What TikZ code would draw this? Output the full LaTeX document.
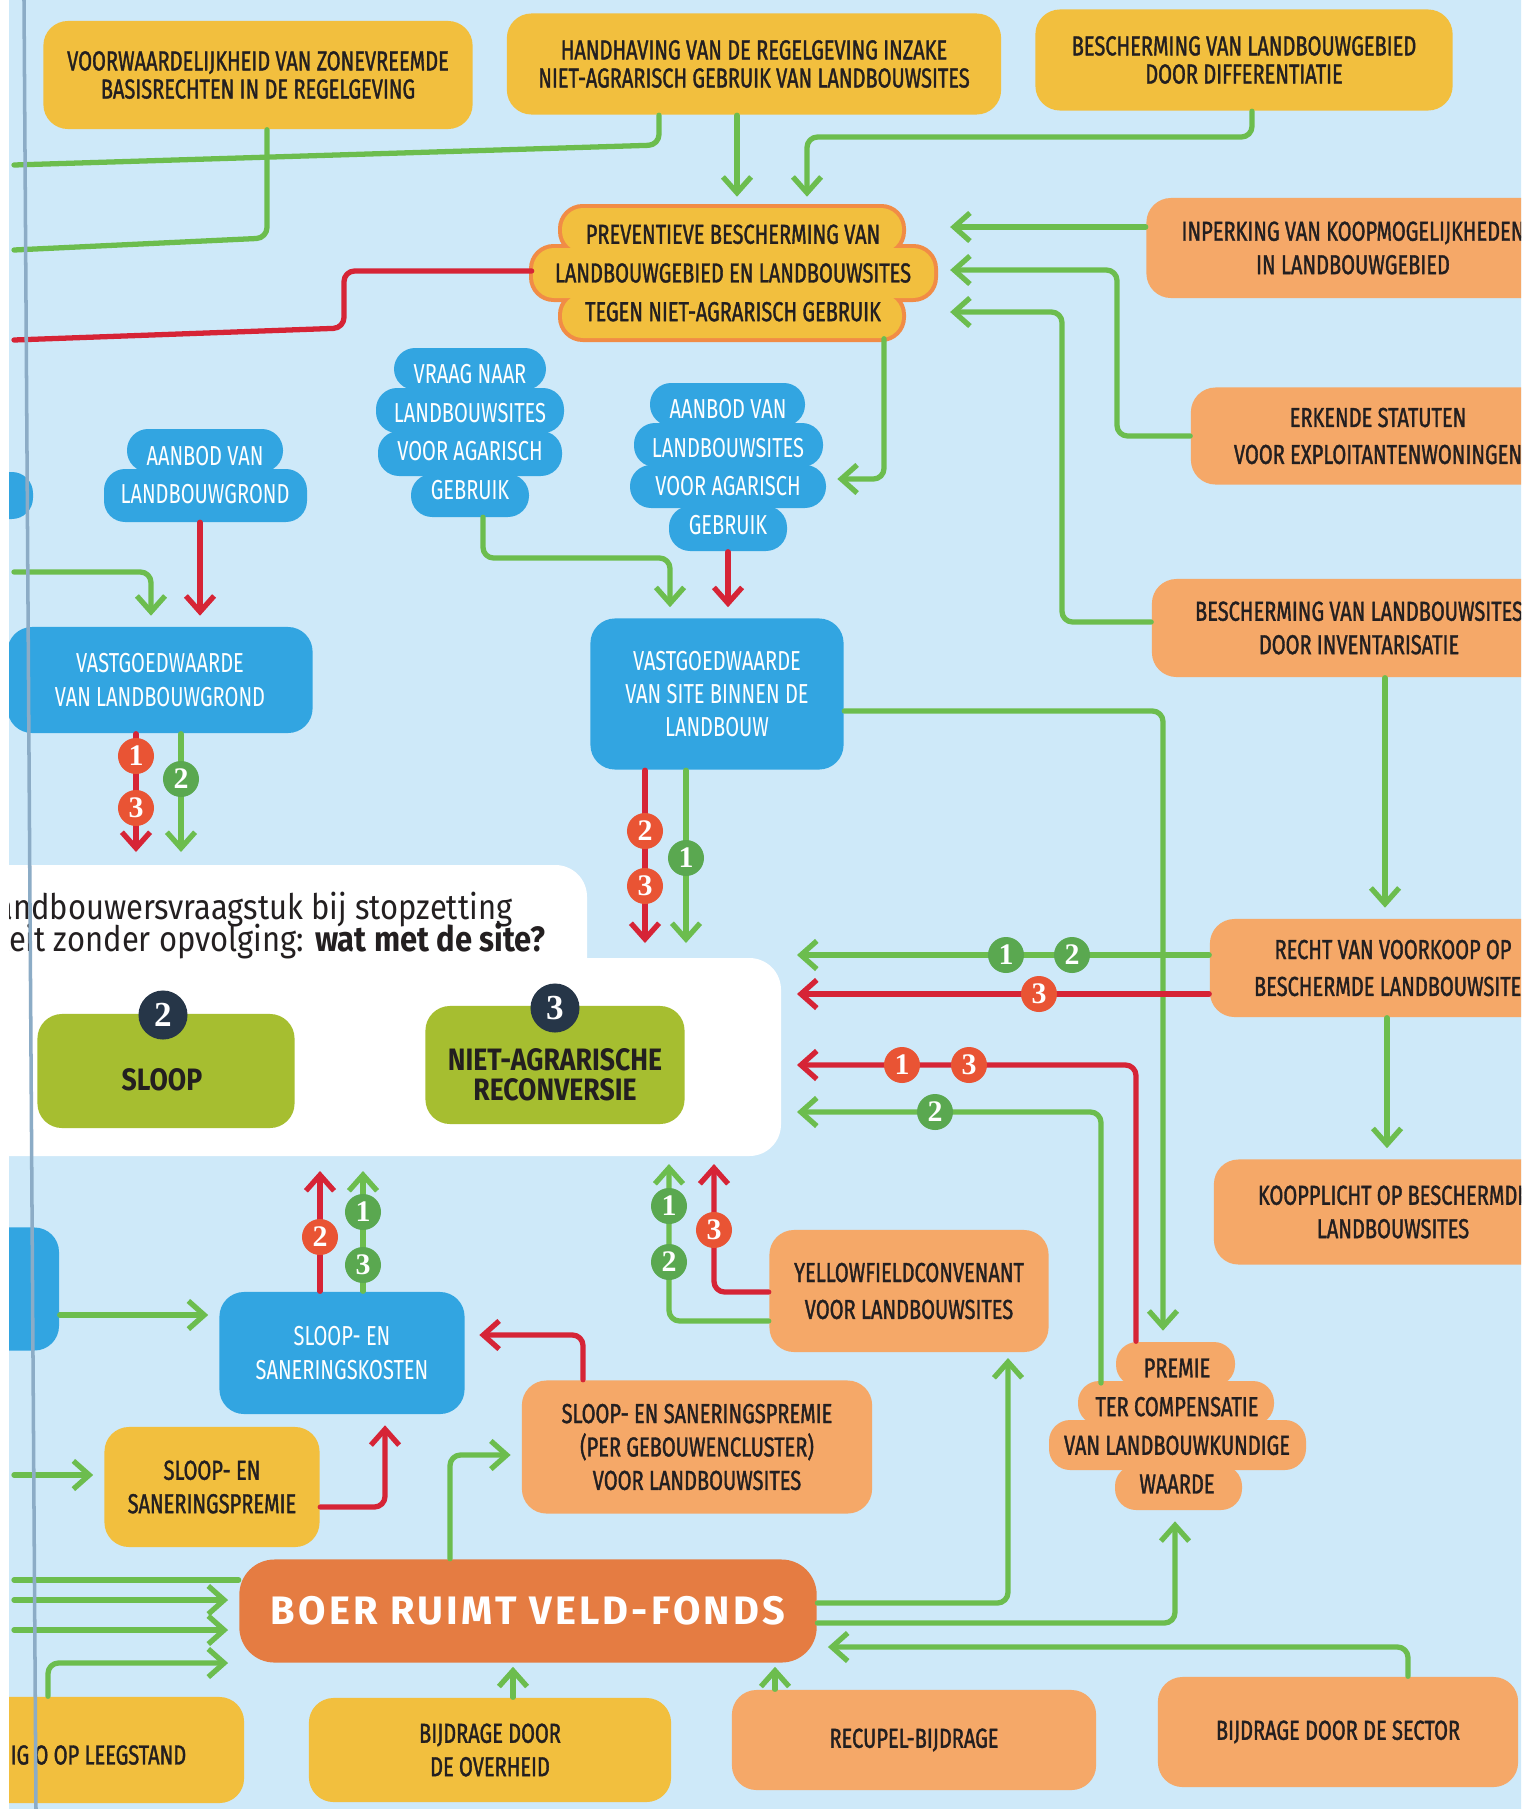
\documentclass[tikz,border=0pt]{standalone}
\usepackage{fontspec}
\setmainfont{Fira Sans}
\newfontfamily\boxfont[FakeStretch=0.73]{Fira Sans}
\newfontfamily\darkboxfont[FakeStretch=0.73,FakeBold=1.3]{Fira Sans}
\newfontfamily\heavyfont[FakeStretch=0.86]{Fira Sans}
\newfontfamily\numfont{Liberation Serif}
\newfontfamily\titlefont[FakeStretch=0.88]{Fira Sans}
\newfontfamily\fondsfont[LetterSpace=8]{Fira Sans}
\usetikzlibrary{arrows.meta}

\definecolor{bgblue}{RGB}{206,233,249}
\definecolor{boxyellow}{RGB}{242,191,62}
\definecolor{boxorange}{RGB}{245,168,104}
\definecolor{boxblue}{RGB}{50,165,225}
\definecolor{fondsorange}{RGB}{229,124,66}
\definecolor{linegreen}{RGB}{108,189,78}
\definecolor{linered}{RGB}{214,36,54}
\definecolor{badgered}{RGB}{233,84,52}
\definecolor{badgegreen}{RGB}{90,168,80}
\definecolor{olive}{RGB}{166,190,48}
\definecolor{navy}{RGB}{38,54,72}
\definecolor{cloudrim}{RGB}{241,140,70}
\definecolor{inkdark}{RGB}{35,31,32}
\definecolor{gutter}{RGB}{140,172,198}

\tikzset{
  ybox/.style={fill=boxyellow, rounded corners=7pt, inner sep=0pt, align=center, text=inkdark,
    font=\darkboxfont\fontsize{7.8}{9.5}\selectfont},
  obox/.style={ybox, fill=boxorange},
  bbox/.style={ybox, fill=boxblue, text=white, font=\boxfont\fontsize{7.8}{9.5}\selectfont},
  tight/.style={font=\darkboxfont\fontsize{7.8}{8}\selectfont},
  loose/.style={font=\darkboxfont\fontsize{7.8}{10.5}\selectfont},
  cloudtext/.style={inner sep=0pt, align=center, text=white, font=\boxfont\fontsize{7.8}{11}\selectfont},
  darkcloud/.style={cloudtext, text=inkdark, font=\darkboxfont\fontsize{7.8}{11}\selectfont},
  olivebox/.style={fill=olive, rounded corners=7pt, inner sep=0pt},
  olivetext/.style={inner sep=0pt, align=center, text=inkdark,
    font=\heavyfont\bfseries\fontsize{8.8}{8.6}\selectfont},
  fondsbox/.style={fill=fondsorange, rounded corners=10pt, inner sep=0pt, text=white,
    font=\fondsfont\bfseries\fontsize{11.3}{12}\selectfont},
  titletext/.style={inner sep=0pt, text=inkdark, font=\titlefont\fontsize{10}{11}\selectfont},
  gline/.style={draw=linegreen, line width=1.5pt, rounded corners=3pt},
  rline/.style={draw=linered, line width=1.5pt, rounded corners=3pt},
  pointy/.style={-{Straight Barb[length=4.5pt,width=8pt]}},
  gapped/.style={shorten >=3pt},
  redbadge/.style={circle, fill=badgered, text=white, inner sep=0pt, minimum size=0.36cm,
    font=\numfont\bfseries\fontsize{8.5}{8.5}\selectfont},
  greenbadge/.style={redbadge, fill=badgegreen},
  navybadge/.style={circle, fill=navy, text=white, inner sep=0pt, minimum size=0.49cm,
    font=\numfont\bfseries\fontsize{10}{10}\selectfont}
}

\begin{document}
\begin{tikzpicture}[x=0.01cm,y=-0.01cm,line cap=round,line join=round]
  \useasboundingbox (0,0) rectangle (1535,1809);
  \fill[white] (0,0) rectangle (1535,1809);
  \begin{scope}
  \clip (9,0) rectangle (1521,1809);
  \fill[bgblue] (0,0) rectangle (1535,1809);

  % white panel with the question
  \fill[white, rounded corners=9pt] (-40,865) rectangle (587,1010);
  \fill[white, rounded corners=9pt] (-40,958) rectangle (781,1156);
  \node[titletext, anchor=base east] (q1) at (513,919) {landbouwersvraagstuk bij stopzetting};
  \node[titletext, anchor=base east] (q2) at (546,951) {activiteit zonder opvolging: \textbf{wat met de site?}};
  \node[olivebox, minimum width=2.57cm, minimum height=1.14cm] (sloop) at (166,1071) {};
  \node[olivebox, minimum width=2.59cm, minimum height=1.18cm] (reconv) at (555,1065) {};
  \node[olivetext] (slooptxt) at (162,1080) {SLOOP};
  \node[olivetext] (reconvtxt) at (555,1075) {NIET-AGRARISCHE\\RECONVERSIE};
  \node[navybadge] (n2) at (163,1015) {2};
  \node[navybadge] (n3) at (555,1008) {3};

  % clouds
  \foreach \xa/\ya/\xb/\yb in {562/208/902/252, 533/248/934/298, 562/294/902/338}
    \fill[cloudrim, rounded corners=7pt] (\xa-4,\ya-4) rectangle (\xb+4,\yb+4);
  \foreach \xa/\ya/\xb/\yb in {562/208/902/252, 533/248/934/298, 562/294/902/338}
    \fill[boxyellow, rounded corners=6pt] (\xa,\ya) rectangle (\xb,\yb);
  \foreach \xa/\ya/\xb/\yb in {394/348/546/390, 376/388/564/433, 378/431/562/476, 411/474/529/517,
      650/383/805/426, 634/423/823/467, 630/465/826/508, 669/506/787/551,
      127/429/283/472, 104/469/307/522, -20/472/33/519}
    \fill[boxblue, rounded corners=6pt] (\xa,\ya) rectangle (\xb,\yb);
  \foreach \xa/\ya/\xb/\yb in {1116/1342/1235/1386, 1078/1381/1274/1425, 1049/1420/1306/1470, 1115/1465/1242/1510}
    \fill[boxorange, rounded corners=6pt] (\xa,\ya) rectangle (\xb,\yb);

  \node[darkcloud, minimum width=4.01cm, minimum height=1.30cm] (prev) at (733,273)
    {PREVENTIEVE BESCHERMING VAN\\LANDBOUWGEBIED EN LANDBOUWSITES\\TEGEN NIET-AGRARISCH GEBRUIK};
  \node[cloudtext, minimum width=1.88cm, minimum height=1.69cm] (vraag) at (470,432)
    {VRAAG NAAR\\LANDBOUWSITES\\VOOR AGARISCH\\GEBRUIK};
  \node[cloudtext, minimum width=1.96cm, minimum height=1.68cm] (aanbsite) at (728,467)
    {AANBOD VAN\\LANDBOUWSITES\\VOOR AGARISCH\\GEBRUIK};
  \node[cloudtext, minimum width=2.03cm, minimum height=0.93cm] (aanbgrond) at (205,475)
    {AANBOD VAN\\LANDBOUWGROND};
  \node[darkcloud, minimum width=2.57cm, minimum height=1.68cm] (premie) at (1177,1426)
    {PREMIE\\TER COMPENSATIE\\VAN LANDBOUWKUNDIGE\\WAARDE};
  \coordinate (p2) at (1101,1383);

  % boxes
  \node[ybox, tight, minimum width=4.29cm, minimum height=1.08cm] (voorw) at (258,75)
    {VOORWAARDELIJKHEID VAN ZONEVREEMDE\\BASISRECHTEN IN DE REGELGEVING};
  \node[ybox, tight, minimum width=4.94cm, minimum height=1.01cm] (handh) at (754,64)
    {HANDHAVING VAN DE REGELGEVING INZAKE\\NIET-AGRARISCH GEBRUIK VAN LANDBOUWSITES};
  \node[ybox, tight, minimum width=4.17cm, minimum height=1.01cm] (diff) at (1244,60)
    {BESCHERMING VAN LANDBOUWGEBIED\\DOOR DIFFERENTIATIE};
  \node[obox, minimum width=4.13cm, minimum height=1.00cm] (inperk) at (1353,248)
    {INPERKING VAN KOOPMOGELIJKHEDEN\\IN LANDBOUWGEBIED};
  \node[obox, loose, minimum width=3.74cm, minimum height=0.97cm] (erkend) at (1378,436)
    {ERKENDE STATUTEN\\VOOR EXPLOITANTENWONINGEN};
  \node[obox, minimum width=4.14cm, minimum height=0.98cm] (invent) at (1359,628)
    {BESCHERMING VAN LANDBOUWSITES\\DOOR INVENTARISATIE};
  \node[obox, loose, minimum width=3.66cm, minimum height=0.98cm] (recht) at (1393,968)
    {RECHT VAN VOORKOOP OP\\BESCHERMDE LANDBOUWSITES};
  \node[obox, minimum width=3.58cm, minimum height=1.05cm] (koop) at (1393,1212)
    {KOOPPLICHT OP BESCHERMDE\\LANDBOUWSITES};
  \node[bbox, minimum width=3.05cm, minimum height=1.06cm] (vggrond) at (160,680)
    {VASTGOEDWAARDE\\VAN LANDBOUWGROND};
  \node[bbox, minimum width=2.53cm, minimum height=1.51cm] (vgsite) at (717,694)
    {VASTGOEDWAARDE\\VAN SITE BINNEN DE\\LANDBOUW};
  \node[bbox, minimum width=2.45cm, minimum height=1.22cm] (kosten) at (342,1353)
    {SLOOP- EN\\SANERINGSKOSTEN};
  \node[bbox, minimum width=1.00cm, minimum height=1.23cm] (leftbox) at (9,1289) {};
  \node[obox, minimum width=3.50cm, minimum height=1.33cm] (premclus) at (697,1447)
    {SLOOP- EN SANERINGSPREMIE\\(PER GEBOUWENCLUSTER)\\VOOR LANDBOUWSITES};
  \node[ybox, minimum width=2.15cm, minimum height=1.20cm] (sanpremie) at (212,1487)
    {SLOOP- EN\\SANERINGSPREMIE};
  \node[obox, loose, minimum width=2.79cm, minimum height=1.22cm] (yellowf) at (909,1291)
    {YELLOWFIELDCONVENANT\\VOOR LANDBOUWSITES};
  \node[fondsbox, minimum width=5.77cm, minimum height=1.03cm] (fonds) at (528,1611) {BOER RUIMT VELD-FONDS};
  \node[ybox, minimum width=2.64cm, minimum height=1.06cm] (leeg) at (112,1750) {};
  \node[inner sep=0pt, text=inkdark, font=\darkboxfont\fontsize{7.8}{9.5}\selectfont, anchor=west] (leegtxt) at (10,1755)
    {IG O OP LEEGSTAND};
  \node[ybox, minimum width=3.62cm, minimum height=1.04cm] (overheid) at (490,1750)
    {BIJDRAGE DOOR\\DE OVERHEID};
  \node[obox, minimum width=3.64cm, minimum height=1.00cm] (recupel) at (914,1740) {RECUPEL-BIJDRAGE};
  \node[obox, minimum width=3.60cm, minimum height=1.10cm] (sector) at (1338,1732) {BIJDRAGE DOOR DE SECTOR};

  % loose ends
  \coordinate (w1) at (14,250);
  \coordinate (w2) at (14,165);
  \coordinate (w3) at (14,340);
  \coordinate (w4) at (14,572);
  \coordinate (w5) at (14,1475);
  \coordinate (w6) at (14,1580);
  \coordinate (w7) at (14,1600);
  \coordinate (w8) at (14,1630);
  \coordinate (e1) at (136,852);
  \coordinate (e2) at (181,852);
  \coordinate (e3) at (645,943);
  \coordinate (e4) at (686,943);
  \coordinate (e5) at (797,955);
  \coordinate (e6) at (797,994);
  \coordinate (e7) at (797,1065);
  \coordinate (e8) at (797,1112);
  \coordinate (e9) at (714,1164);
  \coordinate (e10) at (669,1164);
  \coordinate (e11) at (320,1171);
  \coordinate (e12) at (363,1171);

  % connectors
  \draw[gline] (voorw.south -| 267,0) -- (267,238) -- (w1);
  \draw[gline] (handh.south -| 659,0) -- (659,145) -- (w2);
  \draw[gline, pointy, gapped] (handh.south -| 737,0) -- (prev.north -| 737,0);
  \draw[gline, pointy, gapped] (diff.south -| 1252,0) -- (1252,137) -- (807,137) -- (prev.north -| 807,0);
  \draw[gline, pointy, shorten >=4.5pt] (inperk.west |- 0,227) -- (prev.east |- 0,227);
  \draw[gline, pointy, shorten >=4.5pt] (erkend.west |- 0,436) -- (1117,436) -- (1117,270) -- (prev.east |- 0,270);
  \draw[gline, pointy, shorten >=4.5pt] (invent.west |- 0,622) -- (1062,622) -- (1062,312) -- (prev.east |- 0,312);
  \draw[rline] (prev.west |- 0,271) -- (344,271) -- (344,328) -- (w3);
  \draw[gline, pointy, gapped] (prev.south -| 884,0) -- (884,479) -- (aanbsite.east |- 0,479);
  \draw[gline, pointy, gapped] (w4) -- (151,572) -- (vggrond.north -| 151,0);
  \draw[rline, pointy, gapped] (aanbgrond.south -| 200,0) -- (vggrond.north -| 200,0);
  \draw[gline, pointy, gapped] (vraag.south -| 483,0) -- (483,558) -- (670,558) -- (vgsite.north -| 670,0);
  \draw[rline, pointy, gapped] (aanbsite.south -| 728,0) -- (vgsite.north -| 728,0);
  \draw[rline, pointy] (vggrond.south -| 136,0) -- (e1);
  \draw[gline, pointy] (vggrond.south -| 181,0) -- (e2);
  \draw[rline, pointy] (vgsite.south -| 645,0) -- (e3);
  \draw[gline, pointy] (vgsite.south -| 686,0) -- (e4);
  \draw[gline, pointy, gapped] (vgsite.east |- 0,711) -- (1163,711) -- (premie.north -| 1163,0);
  \draw[gline, pointy, gapped] (invent.south -| 1385,0) -- (recht.north -| 1385,0);
  \draw[gline, pointy, gapped] (recht.south -| 1387,0) -- (koop.north -| 1387,0);
  \draw[gline, pointy] (recht.west |- 0,955) -- (e5);
  \draw[rline, pointy] (recht.west |- 0,994) -- (e6);
  \draw[rline, pointy] (premie.north -| 1136,0) -- (1136,1065) -- (e7);
  \draw[gline, pointy] (p2) -- (1101,1112) -- (e8);
  \draw[rline, pointy] (yellowf.west |- 0,1292) -- (714,1292) -- (e9);
  \draw[gline, pointy] (yellowf.west |- 0,1321) -- (669,1321) -- (e10);
  \draw[rline, pointy] (kosten.north -| 320,0) -- (e11);
  \draw[gline, pointy] (kosten.north -| 363,0) -- (e12);
  \draw[gline, pointy, gapped] (leftbox.east |- 0,1315) -- (kosten.west |- 0,1315);
  \draw[rline, pointy, shorten >=4pt] (premclus.north -| 583,0) -- (583,1335) -- (kosten.east |- 0,1335);
  \draw[gline, pointy, gapped] (w5) -- (sanpremie.west |- 0,1475);
  \draw[rline, pointy, gapped] (sanpremie.east |- 0,1507) -- (385,1507) -- (kosten.south -| 385,0);
  \draw[gline, pointy, gapped] (fonds.north -| 450,0) -- (450,1455) -- (premclus.west |- 0,1455);
  \draw[gline, pointy, shorten >=1.5pt] (fonds.east |- 0,1603) -- (1008,1603) -- (yellowf.south -| 1008,0);
  \draw[gline, pointy, gapped] (fonds.east |- 0,1623) -- (1175,1623) -- (premie.south -| 1175,0);
  \draw[gline, pointy, gapped] (sector.north -| 1408,0) -- (1408,1647) -- (fonds.east |- 0,1647);
  \draw[gline, pointy, shorten >=1pt] (overheid.north -| 513,0) -- (fonds.south -| 513,0);
  \draw[gline, pointy, shorten >=1pt] (recupel.north -| 775,0) -- (fonds.south -| 775,0);
  \draw[gline] (w6) -- (fonds.west |- 0,1580);
  \draw[gline, pointy, gapped] (w7) -- (fonds.west |- 0,1600);
  \draw[gline, pointy, gapped] (w8) -- (fonds.west |- 0,1630);
  \draw[gline, pointy, gapped] (leeg.north -| 48,0) -- (48,1663) -- (fonds.west |- 0,1663);

  % numbered badges
  \node[redbadge] (b1) at (136,756) {1};
  \node[redbadge] (b2) at (136,808) {3};
  \node[greenbadge] (b3) at (181,779) {2};
  \node[redbadge] (b4) at (645,831) {2};
  \node[redbadge] (b5) at (645,886) {3};
  \node[greenbadge] (b6) at (686,858) {1};
  \node[greenbadge] (b7) at (1006,955) {1};
  \node[greenbadge] (b8) at (1072,955) {2};
  \node[redbadge] (b9) at (1039,994) {3};
  \node[redbadge] (b10) at (902,1065) {1};
  \node[redbadge] (b11) at (969,1065) {3};
  \node[greenbadge] (b12) at (935,1112) {2};
  \node[greenbadge] (b13) at (669,1206) {1};
  \node[greenbadge] (b14) at (669,1262) {2};
  \node[redbadge] (b15) at (714,1230) {3};
  \node[redbadge] (b16) at (320,1237) {2};
  \node[greenbadge] (b17) at (363,1212) {1};
  \node[greenbadge] (b18) at (363,1265) {3};

  % page fold
  \draw[gutter, line width=1pt] (24,0) -- (36,1809);
  \end{scope}
\end{tikzpicture}
\end{document}
